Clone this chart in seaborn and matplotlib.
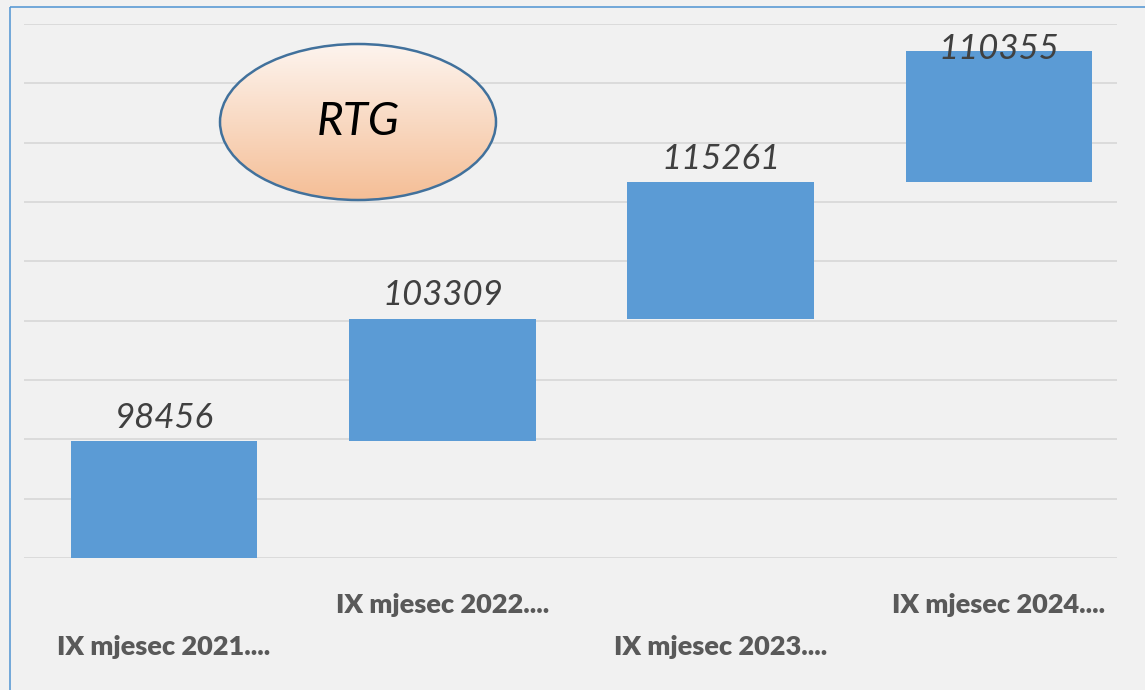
import numpy as np
import pandas as pd
import matplotlib
matplotlib.use("Agg")
import matplotlib.pyplot as plt
from matplotlib.patches import Ellipse, Rectangle
import seaborn as sns

# chart data
categories = ["IX mjesec 2021....", "IX mjesec 2022....", "IX mjesec 2023....", "IX mjesec 2024...."]
values = [98456, 103309, 115261, 110355]
badge_text = "RTG"

bar_color = "#5b9bd5"
grid_color = "#d9d9d9"
bg_color = "#f1f1f1"

df = pd.DataFrame({"period": categories, "count": values})
# each bar starts where the previous one ended
df["base"] = df["count"].cumsum() - df["count"]
df["top"] = df["count"].cumsum()

sns.set_style("white")
plt.rcParams["font.family"] = ["Lato", "DejaVu Sans"]

W, H = 1145, 690
fig = plt.figure(figsize=(W / 100, H / 100), dpi=100)
fig.patch.set_facecolor(bg_color)

# plot area in pixel terms: x 24..1117, y 24..558
ax = fig.add_axes([24 / W, (H - 558) / H, (1117 - 24) / W, (558 - 24) / H])
ax.set_facecolor("none")

sns.barplot(data=df, x="period", y="count", bottom=df["base"], color=bar_color,
            width=0.67, saturation=1, linewidth=0, ax=ax, zorder=3)

ax.set_ylim(0, 450000)
ax.set_xlim(-0.503, 3.424)
ax.set_yticks(np.arange(0, 450001, 50000))
ax.yaxis.grid(True, color=grid_color, linewidth=1.3, zorder=0)
ax.set_axisbelow(True)
ax.tick_params(axis="y", left=False, labelleft=False)
ax.tick_params(axis="x", bottom=False, labelsize=19.5, labelcolor="#595959")
for lbl in ax.get_xticklabels():
    lbl.set_fontweight("heavy")
for i, tick in enumerate(ax.xaxis.get_major_ticks()):
    tick.set_pad(52 if i % 2 == 0 else 22)
ax.set_xlabel("")
ax.set_ylabel("")
sns.despine(ax=ax, left=True, bottom=True)

# value labels, pulled down when they would run past the top of the plot area
label_h = 26000
for i, row in df.iterrows():
    y = row["top"] + 6000
    if y + label_h > 450000 - 8000:
        y = row["top"] - 12000
    ax.text(i, y, f"{row['count']}", ha="center", va="bottom", fontsize=25,
            fontstyle="italic", color="#404040", zorder=5)

# decoration layer: frame and the RTG badge
deco = fig.add_axes([0, 0, 1, 1], zorder=5)
deco.set_xlim(0, W)
deco.set_ylim(H, 0)
deco.axis("off")
deco.patch.set_alpha(0)
deco.add_patch(Rectangle((10, 7), W, H, fill=False, edgecolor="#5b9bd5", linewidth=1.2))

cx, cy, ew, eh = 358, 122, 276, 156
grad = np.linspace(0, 1, 100)[:, None, None]
top_c = np.array([253, 244, 238]) / 255
bot_c = np.array([245, 190, 150]) / 255
img = top_c + (bot_c - top_c) * grad
img = np.repeat(img, 2, axis=1)
ell_clip = Ellipse((cx, cy), ew, eh, transform=deco.transData)
im = deco.imshow(img, extent=(cx - ew / 2, cx + ew / 2, cy + eh / 2, cy - eh / 2),
                 aspect="auto", zorder=1)
im.set_clip_path(ell_clip)
deco.add_patch(Ellipse((cx, cy), ew, eh, fill=False, edgecolor="#41719c", linewidth=1.8, zorder=2))
deco.text(cx, cy, badge_text, ha="center", va="center", fontsize=33, fontstyle="italic",
          color="black", zorder=3)
deco.set_xlim(0, W)
deco.set_ylim(H, 0)

fig.savefig("out.png", dpi=100, facecolor=fig.get_facecolor())
